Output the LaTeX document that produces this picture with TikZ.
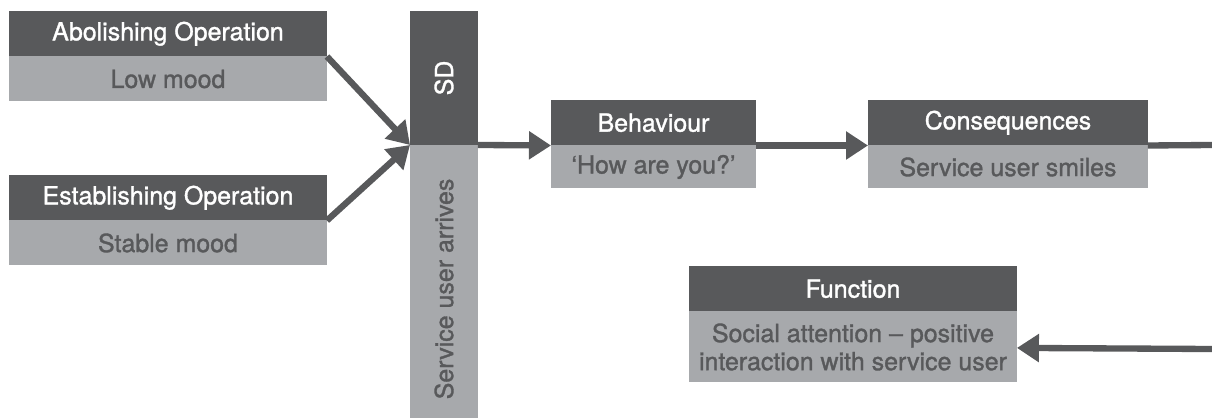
\documentclass[tikz,border=0pt]{standalone}
\usepackage{fontspec}
\setmainfont{TeX Gyre Heros}
\newfontfamily\medfont{TeX Gyre Heros}[Ligatures=TeX, FakeBold=1.3]
\usepackage{graphicx}
\usetikzlibrary{positioning}
\usetikzlibrary{arrows.meta}

\definecolor{boxdark}{HTML}{58595B}
\definecolor{boxlight}{HTML}{A7A9AC}

\begin{document}
\begin{tikzpicture}[x=0.02cm, y=-0.02cm,
    every node/.style={font=\medfont\fontsize{14.2}{16}\selectfont, inner sep=0pt, outer sep=0pt},
    head/.style={fill=boxdark, text=white, minimum height=0.91cm},
    body/.style={fill=boxlight, text=boxdark, minimum height=0.9cm, align=center},
    flow/.style={draw=boxdark, line width=3.6pt, -{Triangle[length=0.44cm, width=0.54cm]}},
]
    \useasboundingbox (0,0) rectangle (1212,419);

    % free ends at the right edge
    \coordinate (rt) at (1212,145);
    \coordinate (rb) at (1212,349);

    % Operations
    \node[head, minimum width=6.36cm, anchor=north west] (aoH) at (9,11) {Abolishing Operation};
    \node[body, minimum width=6.36cm, below=0pt of aoH] (aoB) {Low mood};
    \node[head, minimum width=6.36cm, anchor=north west] (eoH) at (9,175) {Establishing Operation};
    \node[body, minimum width=6.36cm, below=0pt of eoH] (eoB) {Stable mood};

    % SD column
    \node[head, minimum width=1.36cm, minimum height=2.68cm, anchor=north west] (sdH) at (410,11) {\rotatebox{90}{SD}};
    \node[body, minimum width=1.36cm, minimum height=5.46cm, below=0pt of sdH] (sdB) {\rotatebox{90}{Service user arrives\hspace{0.3cm}}};

    % Behaviour and consequences
    \node[head, minimum width=4.1cm, anchor=north west] (bH) at (551,100) {Behaviour};
    \node[body, minimum width=4.1cm, minimum height=0.86cm, below=0pt of bH] (bB) {‘How are you?’};
    \node[head, minimum width=5.6cm, anchor=north west] (cH) at (868,100) {Consequences};
    \node[body, minimum width=5.6cm, minimum height=0.86cm, below=0pt of cH] (cB) {Service user smiles};

    % Function
    \node[head, minimum width=6.56cm, anchor=north west] (fH) at (689,266) {Function};
    \node[body, minimum width=6.56cm, minimum height=1.42cm, below=0pt of fH] (fB) {Social attention – positive\\interaction with service user};

    % Lines
    \draw[flow] (aoH.south east) -- (sdH.south west);
    \draw[flow] (eoH.south east) -- (sdH.south west);
    \draw[flow] (sdH.south east) -- (bH.south west);
    \draw[flow] (bH.south east) -- (cH.south west);
    \draw[draw=boxdark, line width=3.6pt] (cH.south east) -- (rt);
    \draw[flow] (rb) -- (fB);
\end{tikzpicture}
\end{document}
